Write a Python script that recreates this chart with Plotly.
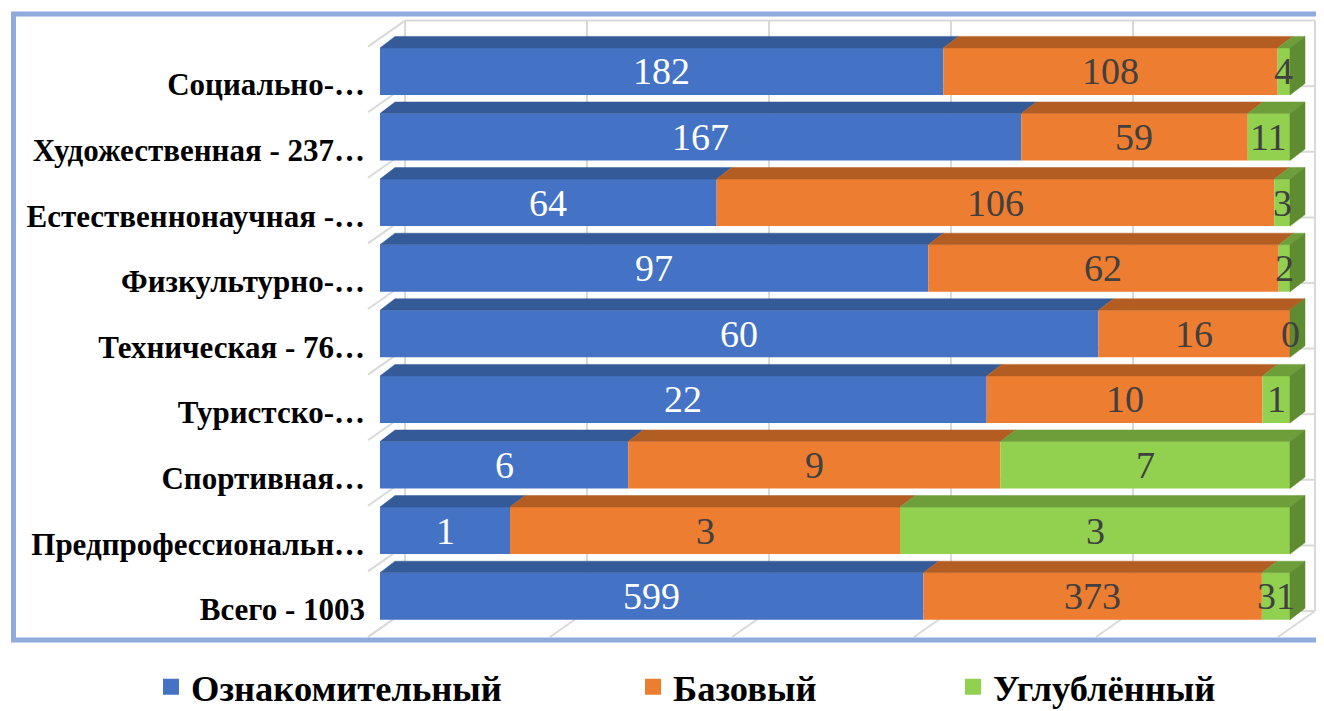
import plotly.graph_objects as go

# ---------------- data ----------------
categories = ["Всего - 1003", "Предпрофессиональн…", "Спортивная…", "Туристско-…",
              "Техническая - 76…", "Физкультурно-…", "Естественнонаучная -…",
              "Художественная - 237…", "Социально-…"]
intro = [599, 1, 6, 22, 60, 97, 64, 167, 182]
basic = [373, 3, 9, 10, 16, 62, 106, 59, 108]
deep = [31, 3, 7, 1, 0, 2, 3, 11, 4]
series_names = ["Ознакомительный", "Базовый", "Углублённый"]
grid_ticks = [0, 20, 40, 60, 80, 100]

# ---------------- styles ----------------
FONT = "Liberation Serif"
front_cols = ["#4472C4", "#ED7D31", "#92D050"]
top_cols = ["#345A98", "#B45D22", "#6E9E3A"]
side_col = "#5F8B31"
label_cols = ["#FFFFFF", "#404040", "#404040"]
grid_col = "#D9D9D9"

OFF = 8                      # page body margin of the html page
W_FIG, H_FIG = 1324 - OFF, 711 - OFF
L, R, T, B = 366 - OFF, 4, 15 - OFF, 71
PW, PH = W_FIG - L - R, H_FIG - T - B
X0PX, PXX = 380 - OFF, 9.1        # px position of 0 %, px per percent
Y0PX, PXY = 629 - OFF, 65.6       # px position of y=0, px per category
xr = [(L - X0PX) / PXX, (W_FIG - R - X0PX) / PXX]
yr = [(Y0PX - (H_FIG - B)) / PXY, (Y0PX - T) / PXY]

def dxp(p):
    return p / PXX

def dyp(p):
    return -p / PXY

# 3-D offsets (px) relative to bar front plane
bdx, bdy = dxp(15), dyp(-11.5)     # bar back
fdx, fdy = dxp(-12), dyp(8)        # floor / wall front
wdx, wdy = dxp(25), dyp(-18)       # back wall
BAR_W = 0.717
n = len(categories)

series = [intro, basic, deep]
totals = [a + b + c for a, b, c in zip(intro, basic, deep)]
pcts = [[v / t * 100 for v, t in zip(s, totals)] for s in series]
bases = []
cum = [0.0] * n
for p in pcts:
    bases.append(cum[:])
    cum = [c + v for c, v in zip(cum, p)]

ypos = [i + 0.5 for i in range(n)]

fig = go.Figure()

# front faces
for k in range(3):
    fig.add_trace(go.Bar(
        y=ypos, x=pcts[k], base=bases[k], orientation="h", width=BAR_W,
        marker=dict(color=front_cols[k], line=dict(width=0)),
        showlegend=False, hoverinfo="skip"))

# top faces
for k in range(3):
    xs, ys = [], []
    for i in range(n):
        x0 = bases[k][i]
        x1 = x0 + pcts[k][i]
        yt = ypos[i] + BAR_W / 2
        xs += [x0, x1, x1 + bdx, x0 + bdx, x0, None]
        ys += [yt, yt, yt + bdy, yt + bdy, yt, None]
    fig.add_trace(go.Scatter(x=xs, y=ys, mode="lines", fill="toself",
                             fillcolor=top_cols[k], line=dict(width=0.5, color=top_cols[k]),
                             showlegend=False, hoverinfo="skip"))

# side faces at the right end
xs, ys = [], []
for i in range(n):
    yt = ypos[i] + BAR_W / 2
    yb = ypos[i] - BAR_W / 2
    xs += [100, 100, 100 + bdx, 100 + bdx, 100, None]
    ys += [yb, yt, yt + bdy, yb + bdy, yb, None]
fig.add_trace(go.Scatter(x=xs, y=ys, mode="lines", fill="toself",
                         fillcolor=side_col, line=dict(width=0.5, color=side_col),
                         showlegend=False, hoverinfo="skip"))

# legend entries
legend_keys = ["legend", "legend2", "legend3"]
for k in range(3):
    fig.add_trace(go.Scatter(x=[None], y=[None], mode="markers", name=series_names[k],
                             marker=dict(symbol="square", size=17, color=front_cols[k]),
                             legend=legend_keys[k]))

# gridlines (3-D walls)
shapes = []
gl = dict(color=grid_col, width=2)
for t in grid_ticks:
    shapes.append(dict(type="line", xref="x", yref="y", layer="below",
                       x0=t + wdx, x1=t + wdx, y0=wdy, y1=n + wdy, line=gl))
    shapes.append(dict(type="line", xref="x", yref="y", layer="below",
                       x0=t + fdx, x1=t + wdx, y0=fdy, y1=wdy, line=gl))
for j in range(n + 1):
    shapes.append(dict(type="line", xref="x", yref="y", layer="below",
                       x0=fdx, x1=wdx, y0=j + fdy, y1=j + wdy, line=gl))
    shapes.append(dict(type="line", xref="x", yref="y", layer="below",
                       x0=wdx, x1=100 + wdx, y0=j + wdy, y1=j + wdy, line=gl))

def px_x(p):
    return (p - OFF - L) / PW

def px_y(p):
    return (H_FIG - B - (p - OFF)) / PH

# outer border
shapes.append(dict(type="rect", xref="paper", yref="paper", layer="above",
                   x0=px_x(13.5), x1=px_x(1345), y0=px_y(640), y1=px_y(14),
                   line=dict(color="#8FAADC", width=5), fillcolor="rgba(0,0,0,0)"))

# data labels
annotations = []
for k in range(3):
    for i in range(n):
        annotations.append(dict(
            x=bases[k][i] + pcts[k][i] / 2, y=ypos[i], xref="x", yref="y",
            text=str(series[k][i]), showarrow=False, xanchor="center", yanchor="middle",
            font=dict(family=FONT, size=38, color=label_cols[k])))

legend_x = [163, 645, 965]
legend_common = dict(orientation="h", yanchor="middle", y=px_y(687), xanchor="left",
                     bgcolor="rgba(0,0,0,0)", borderwidth=0,
                     font=dict(family=FONT, size=36.5, color="#000000", weight="bold"))

fig.update_layout(
    width=W_FIG, height=H_FIG,
    margin=dict(l=L, r=R, t=T, b=B, autoexpand=False),
    paper_bgcolor="#FFFFFF", plot_bgcolor="#FFFFFF",
    barmode="overlay",
    showlegend=True,
    xaxis=dict(range=xr, showgrid=False, zeroline=False, showticklabels=False,
               showline=False, fixedrange=True),
    yaxis=dict(range=yr, showgrid=False, zeroline=False, showline=False,
               tickmode="array", tickvals=[p - 0.2 for p in ypos], ticktext=categories,
               ticks="", tickfont=dict(family=FONT, size=31, color="#000000", weight="bold"),
               fixedrange=True),
    shapes=shapes,
    annotations=annotations,
    legend=dict(x=px_x(legend_x[0] - 12), **legend_common),
    legend2=dict(x=px_x(legend_x[1] - 12), **legend_common),
    legend3=dict(x=px_x(legend_x[2] - 12), **legend_common),
)

fig.write_html("out.html")
